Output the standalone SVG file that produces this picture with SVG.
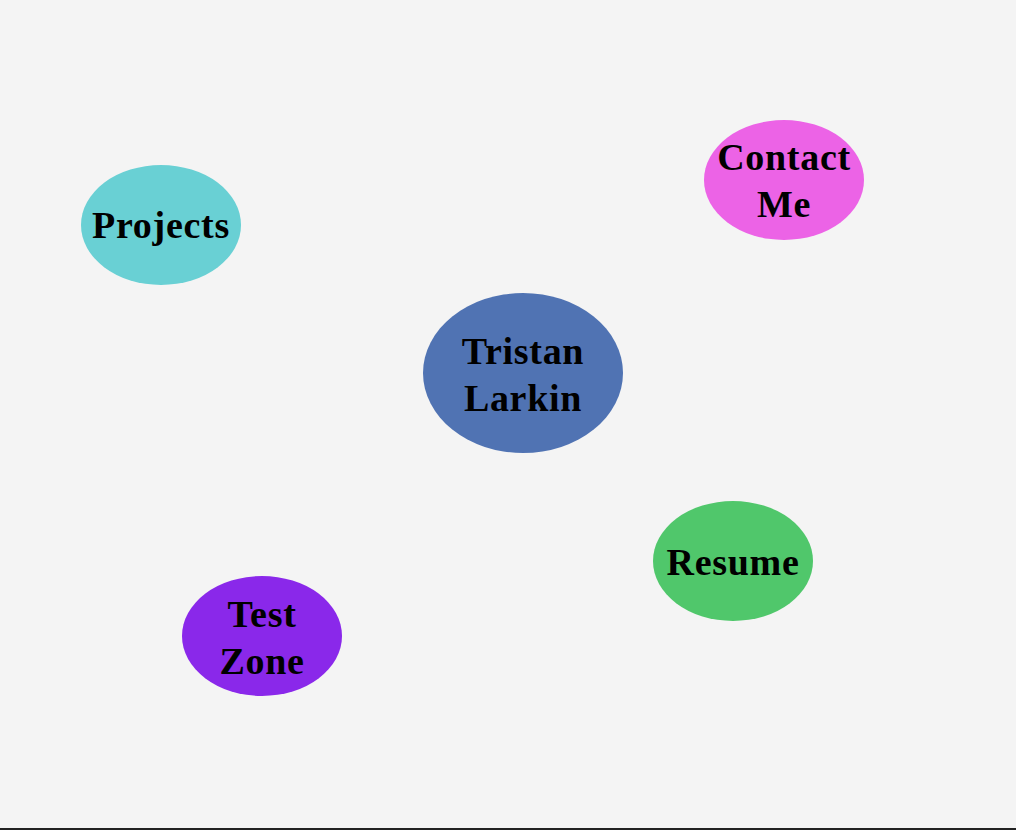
<svg xmlns="http://www.w3.org/2000/svg" width="1016" height="830" viewBox="0 0 1016 830">
  <style>
    .label { font-family: "Liberation Serif", "Times New Roman", serif; font-weight: bold; font-size: 38px; letter-spacing: 0.7px; fill: #000; text-anchor: middle; }
  </style>
  <rect width="1016" height="830" fill="#f4f4f4"/>
  <g id="connectors"></g>
  <g id="node-projects">
    <ellipse cx="161" cy="225" rx="80" ry="60" fill="#69d0d4"/>
    <text class="label" x="161" y="238">Projects</text>
  </g>
  <g id="node-contact">
    <ellipse cx="784" cy="180" rx="80" ry="60" fill="#ec63e6"/>
    <text class="label" x="784" y="170">Contact</text>
    <text class="label" x="784" y="217">Me</text>
  </g>
  <g id="node-center">
    <ellipse cx="523" cy="373" rx="100" ry="80" fill="#5073b3"/>
    <text class="label" x="523" y="364">Tristan</text>
    <text class="label" x="523" y="411">Larkin</text>
  </g>
  <g id="node-resume">
    <ellipse cx="733" cy="561" rx="80" ry="60" fill="#50c76b"/>
    <text class="label" x="733" y="575">Resume</text>
  </g>
  <g id="node-testzone">
    <ellipse cx="262" cy="636" rx="80" ry="60" fill="#8a28ea"/>
    <text class="label" x="262" y="627">Test</text>
    <text class="label" x="262" y="674">Zone</text>
  </g>
  <rect x="0" y="828" width="1016" height="2" fill="#222"/>
</svg>
